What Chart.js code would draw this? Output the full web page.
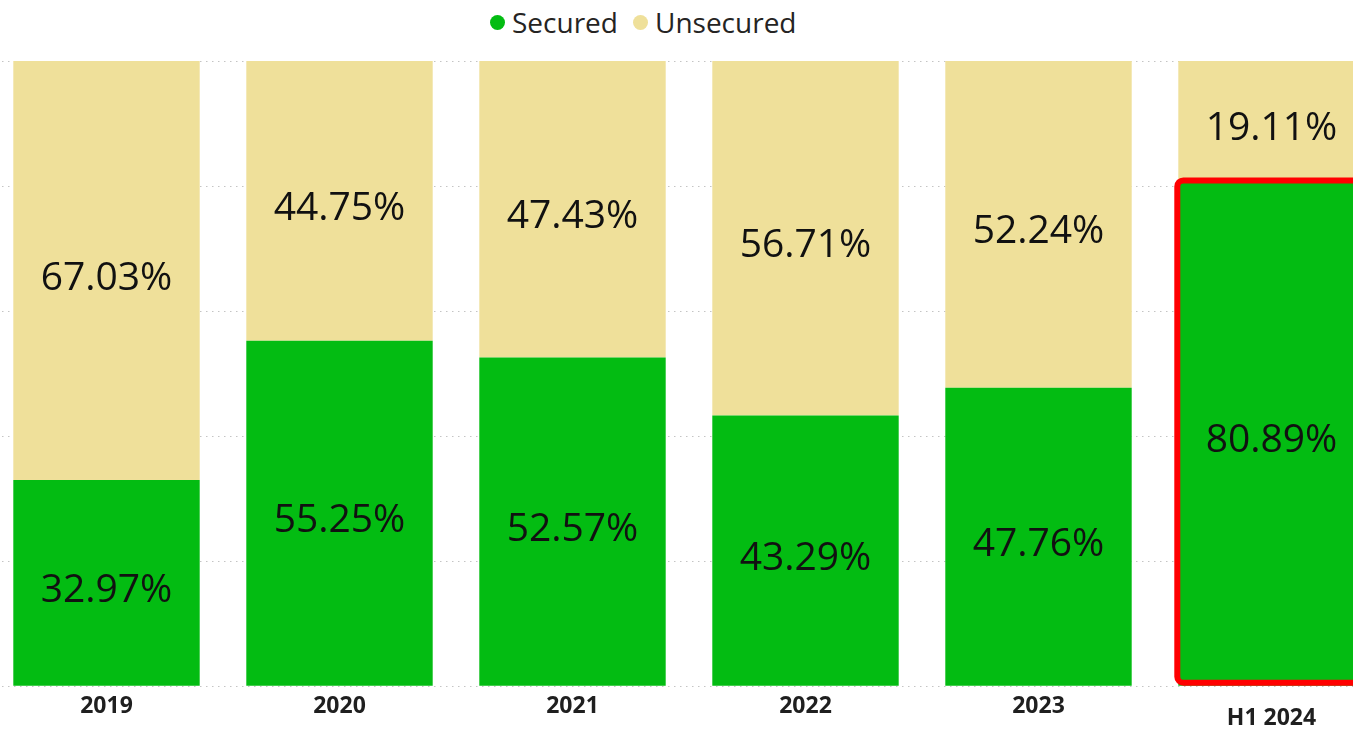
<!DOCTYPE html>
<html>
<head>
<meta charset="utf-8">
<script src="https://cdn.jsdelivr.net/npm/chart.js@4"></script>
<style>
    html, body { margin: 0; padding: 0; background: #fff; overflow: hidden; width: 1353px; height: 730px; }
    #wrap { position: absolute; left: -10px; top: 0; width: 1398px; height: 742px; }
    #legend {
        position: absolute; top: 3px; left: 490px; height: 38px;
        display: flex; align-items: center;
        font-family: "Open Sans", sans-serif; font-size: 28px; color: #252423;
    }
    #legend .item { display: flex; align-items: center; margin-right: 15px; }
    #legend .dot { width: 15px; height: 15px; border-radius: 50%; margin-right: 7px; }
</style>
</head>
<body>
<div id="legend"></div>
<div id="wrap"><canvas id="shareChart"></canvas></div>
<script>
const categories = ['2019', '2020', '2021', '2022', '2023', 'H1 2024'];
const securedShare = [32.97, 55.25, 52.57, 43.29, 47.76, 80.89];
const unsecuredShare = [67.03, 44.75, 47.43, 56.71, 52.24, 19.11];
const gridTicks = [0, 20, 40, 60, 80, 100];

const GREEN = '#03BC12';
const KHAKI = '#EFE09A';
const HIGHLIGHT_INDEX = 5;

// value labels in the middle of each segment
const segmentLabels = {
    id: 'segmentLabels',
    afterDatasetsDraw(chart) {
        const ctx = chart.ctx;
        ctx.save();
        ctx.font = '39px "Open Sans", sans-serif';
        ctx.fillStyle = '#111';
        ctx.textAlign = 'center';
        ctx.textBaseline = 'middle';
        chart.data.datasets.forEach((ds, di) => {
            chart.getDatasetMeta(di).data.forEach((bar, i) => {
                const p = bar.getCenterPoint();
                ctx.fillText(ds.data[i].toFixed(2) + '%', p.x, p.y + 8);
            });
        });
        ctx.restore();
    }
};

// red rounded outline round the latest secured bar
const highlightBar = {
    id: 'highlightBar',
    afterDatasetsDraw(chart) {
        const bar = chart.getDatasetMeta(0).data[HIGHLIGHT_INDEX];
        if (!bar) return;
        const ctx = chart.ctx;
        const left = bar.x - bar.width / 2;
        const right = bar.x + bar.width / 2;
        ctx.save();
        ctx.strokeStyle = '#FF0000';
        ctx.lineWidth = 6;
        ctx.beginPath();
        ctx.roundRect(left - 1, bar.y, right - left + 1, bar.base - bar.y - 3, 6);
        ctx.stroke();
        ctx.restore();
    }
};

const shareChart = new Chart(document.getElementById('shareChart'), {
    type: 'bar',
    data: {
        labels: categories,
        datasets: [
            { label: 'Secured', data: securedShare, backgroundColor: GREEN },
            { label: 'Unsecured', data: unsecuredShare, backgroundColor: KHAKI }
        ]
    },
    options: {
        responsive: true,
        maintainAspectRatio: false,
        animation: false,
        layout: { padding: { top: 61, left: 0, right: 0, bottom: 0 } },
        datasets: {
            bar: { categoryPercentage: 1, barPercentage: 0.8 }
        },
        scales: {
            x: {
                stacked: true,
                grid: { display: false },
                border: { display: false },
                ticks: {
                    color: '#1f1f1f',
                    padding: -2,
                    maxRotation: 0,
                    font: (c) => ({
                        family: '"Open Sans", sans-serif',
                        size: 23,
                        weight: 'bold',
                        lineHeight: c.index === HIGHLIGHT_INDEX ? 2.25 : 1.2
                    })
                }
            },
            y: {
                stacked: true,
                min: 0,
                max: 100,
                afterBuildTicks: (axis) => { axis.ticks = gridTicks.map(v => ({ value: v })); },
                border: { display: false, dash: [1.5, 4.5] },
                grid: { color: '#C4C4C4', drawTicks: false },
                ticks: { display: false }
            }
        },
        plugins: {
            legend: { display: false },
            tooltip: { enabled: false }
        }
    },
    plugins: [segmentLabels, highlightBar]
});

// legend built from the datasets
const legendEl = document.getElementById('legend');
shareChart.data.datasets.forEach(ds => {
    const item = document.createElement('span');
    item.className = 'item';
    item.innerHTML = `<span class="dot" style="background:${ds.backgroundColor}"></span>${ds.label}`;
    legendEl.appendChild(item);
});
</script>
</body>
</html>
